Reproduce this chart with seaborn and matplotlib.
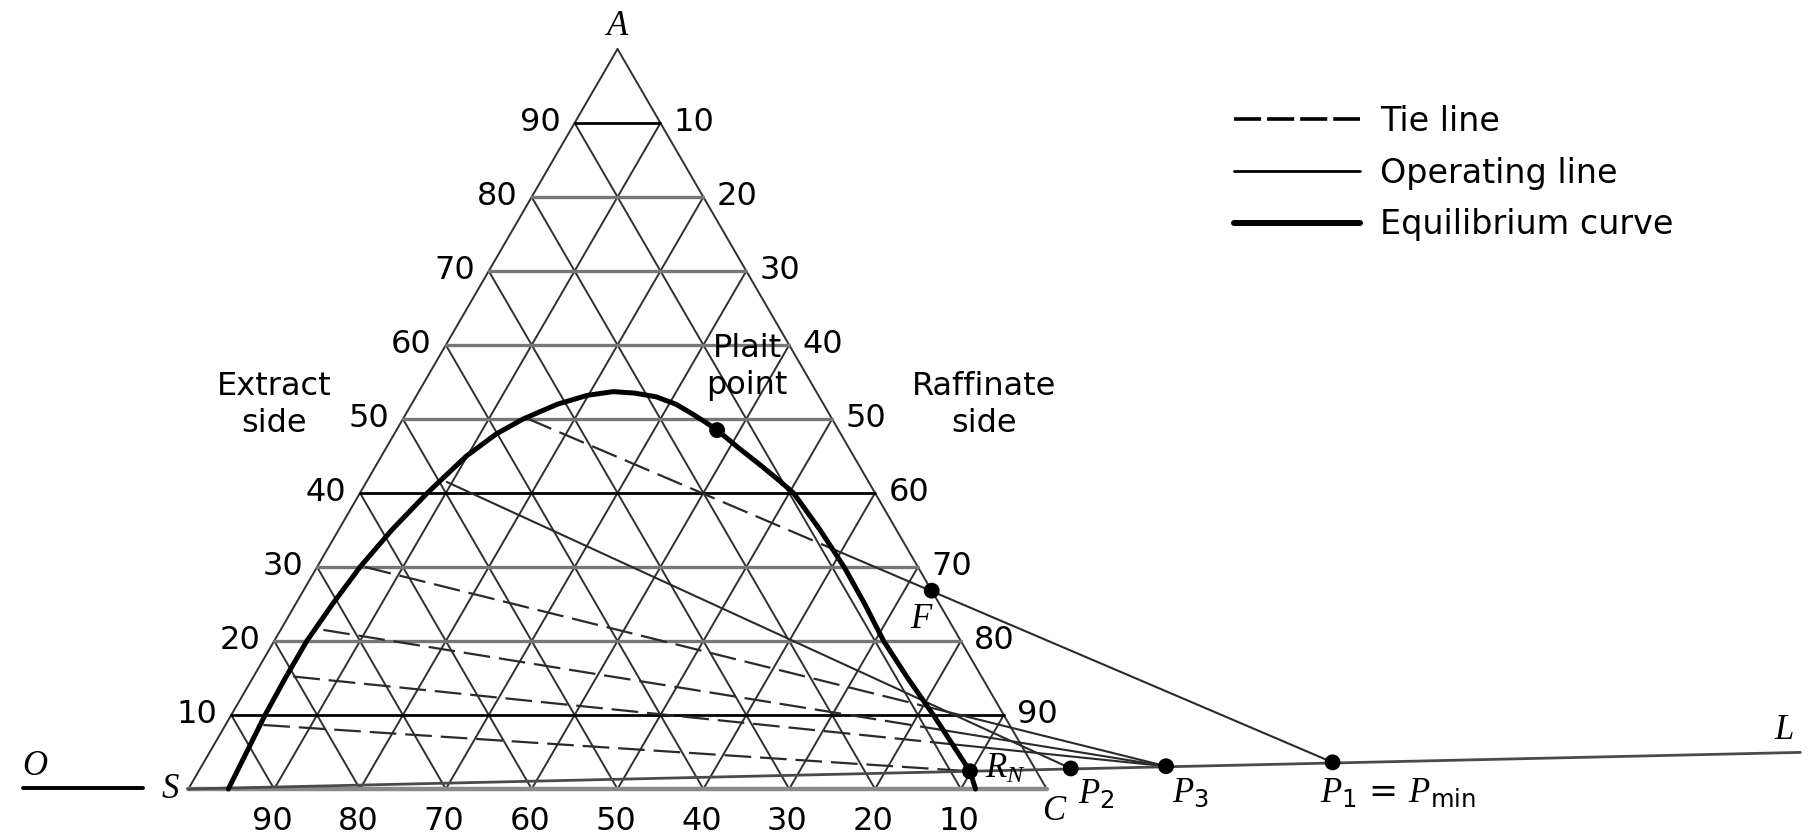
import numpy as np
import matplotlib
matplotlib.use("Agg")
import matplotlib.pyplot as plt
from matplotlib.lines import Line2D
import seaborn as sns

# ---------------- data (wt %) ----------------
grid_ticks = [10, 20, 30, 40, 50, 60, 70, 80, 90]
dark_rows = [10, 40, 90]

# equilibrium (solubility) curve: solute A and horizontal diagram position, extract side -> top -> raffinate side
eq_A = [0, 5, 10, 15, 20, 25, 30, 35, 40, 45, 48, 50, 52, 53.2, 53.7,
        53.5, 53.0, 52.0, 50.7, 49.6, 48.5, 46, 44, 42, 40, 35, 30, 25, 20, 15, 10, 5, 2.4, 0]
eq_x = [4.66, 6.8, 8.94, 11.3, 13.8, 16.8, 20.0, 23.7, 27.84, 32.4, 35.9, 39.0, 43.0, 46.5, 49.5,
        52.0, 54.5, 56.8, 58.7, 60.2, 61.6, 64.2, 66.4, 68.5, 70.5, 73.6, 76.4, 78.8, 81.0, 83.8,
        86.8, 89.6, 91.06, 91.7]
eq_C = [x - a / 2.0 for x, a in zip(eq_x, eq_A)]

plait_A, plait_C = 48.5, 37.35
feed_A, feed_C = 26.8, 73.2
rn_A, rn_C = 2.4, 89.86

# difference points on line S-R_N extended (diagram coordinates)
p_names = ["P1", "P2", "P3"]
p_x = [133.3, 102.8, 113.9]
p_y = [3.6, 2.78, 3.08]

# tie lines: extract-end composition and where each extension ends
tie_A = [50.1, 41.5, 30.0, 21.5, 15.2, 8.65]
tie_C = [14.37, 9.35, 5.58, 4.98, 4.63, 4.41]
tie_end = ["P1", "P2", "P3", "P3", "P3", "RN"]
tie_solid = [False, True, False, False, False, False]

line_L_end_x = 187.8
o_line_x = [-19.3, -5.3]
o_line_y = [0.1, 0.1]

legend_labels = ["Tie line", "Operating line", "Equilibrium curve"]


def to_xy(a, c):
    a = np.asarray(a, float)
    c = np.asarray(c, float)
    return c + a / 2.0, a


# ---------------- figure ----------------
sns.set_theme(style="white")
plt.rcParams["font.family"] = ["DejaVu Sans"]
plt.rcParams["text.color"] = "black"
plt.rcParams["mathtext.fontset"] = "custom"
plt.rcParams["mathtext.it"] = "Liberation Serif:italic"
plt.rcParams["mathtext.rm"] = "DejaVu Sans"

fig = plt.figure(figsize=(18.1, 8.38), dpi=100)
ax = fig.add_axes([0, 0, 1, 1])

GRID = "#303030"
# slanted grid lines and triangle edges
for k in [0] + grid_ticks:
    xs, ys = to_xy([0, 100 - k], [k, k])            # constant C = k
    ax.plot(xs, ys, color=GRID, lw=1.4, zorder=1)
    xs, ys = to_xy([0, 100 - k], [100 - k, 0])      # constant S = k
    ax.plot(xs, ys, color=GRID, lw=1.4, zorder=1)
# horizontal lines (constant A)
for k in grid_ticks:
    xs, ys = to_xy([k, k], [0, 100 - k])
    if k in dark_rows:
        ax.plot(xs, ys, color="black", lw=2.0, zorder=1)
    else:
        ax.plot(xs, ys, color="#777777", lw=2.4, zorder=1)
xs, ys = to_xy([0, 0], [0, 100])
ax.plot(xs, ys, color="#8a8a8a", lw=3.2, zorder=1)

# equilibrium curve
ex, ey = to_xy(eq_A, eq_C)
sns.lineplot(x=ex, y=ey, sort=False, estimator=None, color="black",
             lw=3.6, ax=ax, zorder=4)

# raffinate branch (for tie-line crossings)
top = int(np.argmax(ey))
rb_x, rb_y = ex[top:], ey[top:]

rn_x, rn_y = to_xy(rn_A, rn_C)
pts = {n: (x, y) for n, x, y in zip(p_names, p_x, p_y)}
pts["RN"] = (float(rn_x), float(rn_y))


def cross_right(x0, y0, x1, y1):
    t = np.linspace(0, 1, 6001)
    xs = x0 + t * (x1 - x0)
    ys = y0 + t * (y1 - y0)
    bx = np.interp(ys, rb_y[::-1], rb_x[::-1])
    idx = int(np.argmax(xs >= bx))
    return xs[idx], ys[idx]


TIE = "#2a2a2a"
for a, c, end, solid in zip(tie_A, tie_C, tie_end, tie_solid):
    x0, y0 = to_xy(a, c)
    x1, y1 = pts[end]
    if solid:
        ax.plot([x0, x1], [y0, y1], color=TIE, lw=1.5, zorder=3)
        continue
    if end == "RN":
        ax.plot([x0, x1], [y0, y1], color=TIE, lw=1.6, dashes=(12, 4), zorder=3)
        continue
    xc, yc = cross_right(float(x0), float(y0), x1, y1)
    ax.plot([x0, xc], [y0, yc], color=TIE, lw=1.6, dashes=(12, 4), zorder=3)
    ax.plot([xc, x1], [yc, y1], color=TIE, lw=1.5, zorder=3)

# line from S through R_N to L
slope = rn_y / rn_x
ax.plot([0, line_L_end_x], [0, slope * line_L_end_x], color="#4a4a4a", lw=2.0, zorder=3)
# short line O
ax.plot(o_line_x, o_line_y, color="black", lw=2.8, zorder=3)

# points
fx, fy = to_xy(feed_A, feed_C)
plx, ply = to_xy(plait_A, plait_C)
dot_x = [float(plx), float(fx), float(rn_x)] + list(p_x)
dot_y = [float(ply), float(fy), float(rn_y)] + list(p_y)
sns.scatterplot(x=dot_x, y=dot_y, s=130, color="black", edgecolor="none",
                ax=ax, legend=False, zorder=6)

# ---------------- text ----------------
PX = 0.72  # points per pixel


def lab(text, xy, dx, dy, **kw):
    ax.annotate(text, xy, xytext=(dx * PX, dy * PX), textcoords="offset points",
                annotation_clip=False, color="black", **kw)


NUM = dict(fontsize=23, va="baseline")
for k in grid_ticks:
    lab(str(k), to_xy(k, 0), -14, -7.7, ha="right", **NUM)
    lab(str(100 - k), to_xy(k, 100 - k), 13.3, -7.7, ha="left", **NUM)
    lab(str(100 - k), to_xy(0, k), -2, -41, ha="center", **NUM)

IT = dict(fontsize=25, family="Liberation Serif", style="italic", va="baseline")
lab("A", to_xy(100, 0), 0, 14, ha="center", **IT)
lab("S", to_xy(0, 0), -18, -9, ha="center", **IT)
lab("C", to_xy(0, 100), 7, -31, ha="center", **IT)
lab("F", (fx, fy), -11, -37, ha="center", **IT)
lab("O", (o_line_x[0], o_line_y[0]), 12.5, 13, ha="center", **IT)
lab("L", (line_L_end_x, slope * line_L_end_x), -16, 13.7, ha="center", **IT)
lab(r"$R_N$", pts["RN"], 15, -7, ha="left", fontsize=25, va="baseline")
lab(r"$P_{\mathrm{2}}$", pts["P2"], 7, -35, ha="left", fontsize=25, va="baseline")
lab(r"$P_{\mathrm{3}}$", pts["P3"], 6, -36, ha="left", fontsize=25, va="baseline")
lab(r"$P_{\mathrm{1}}$ = $P_{\mathrm{min}}$", pts["P1"], -13, -41, ha="left",
    fontsize=25, va="baseline")

ax.text(274 / 1810, 1 - 405 / 838, "Extract\nside", transform=ax.transAxes,
        ha="center", va="center", fontsize=23, linespacing=1.25, color="black")
ax.text(984 / 1810, 1 - 405 / 838, "Raffinate\nside", transform=ax.transAxes,
        ha="center", va="center", fontsize=23, linespacing=1.25, color="black")
ax.text(747 / 1810, 1 - 367 / 838, "Plait\npoint", transform=ax.transAxes,
        ha="center", va="center", fontsize=23, linespacing=1.22, color="black")

# legend
handles = [Line2D([], [], color="black", lw=2.6, dashes=(7.5, 1.66)),
           Line2D([], [], color="black", lw=2.0),
           Line2D([], [], color="black", lw=4.3)]
leg = ax.legend(handles, legend_labels, loc="upper left",
                bbox_to_anchor=(1234 / 1810, 1 - 105 / 838), bbox_transform=fig.transFigure,
                frameon=False, fontsize=24, handlelength=3.78, handletextpad=0.6,
                labelspacing=0.56, borderpad=0, borderaxespad=0)
for t in leg.get_texts():
    t.set_color("black")

ax.set_xlim(-21.94, 188.92)
ax.set_ylim(-6.62, 106.62)
ax.axis("off")
fig.savefig("out.png", dpi=100)
